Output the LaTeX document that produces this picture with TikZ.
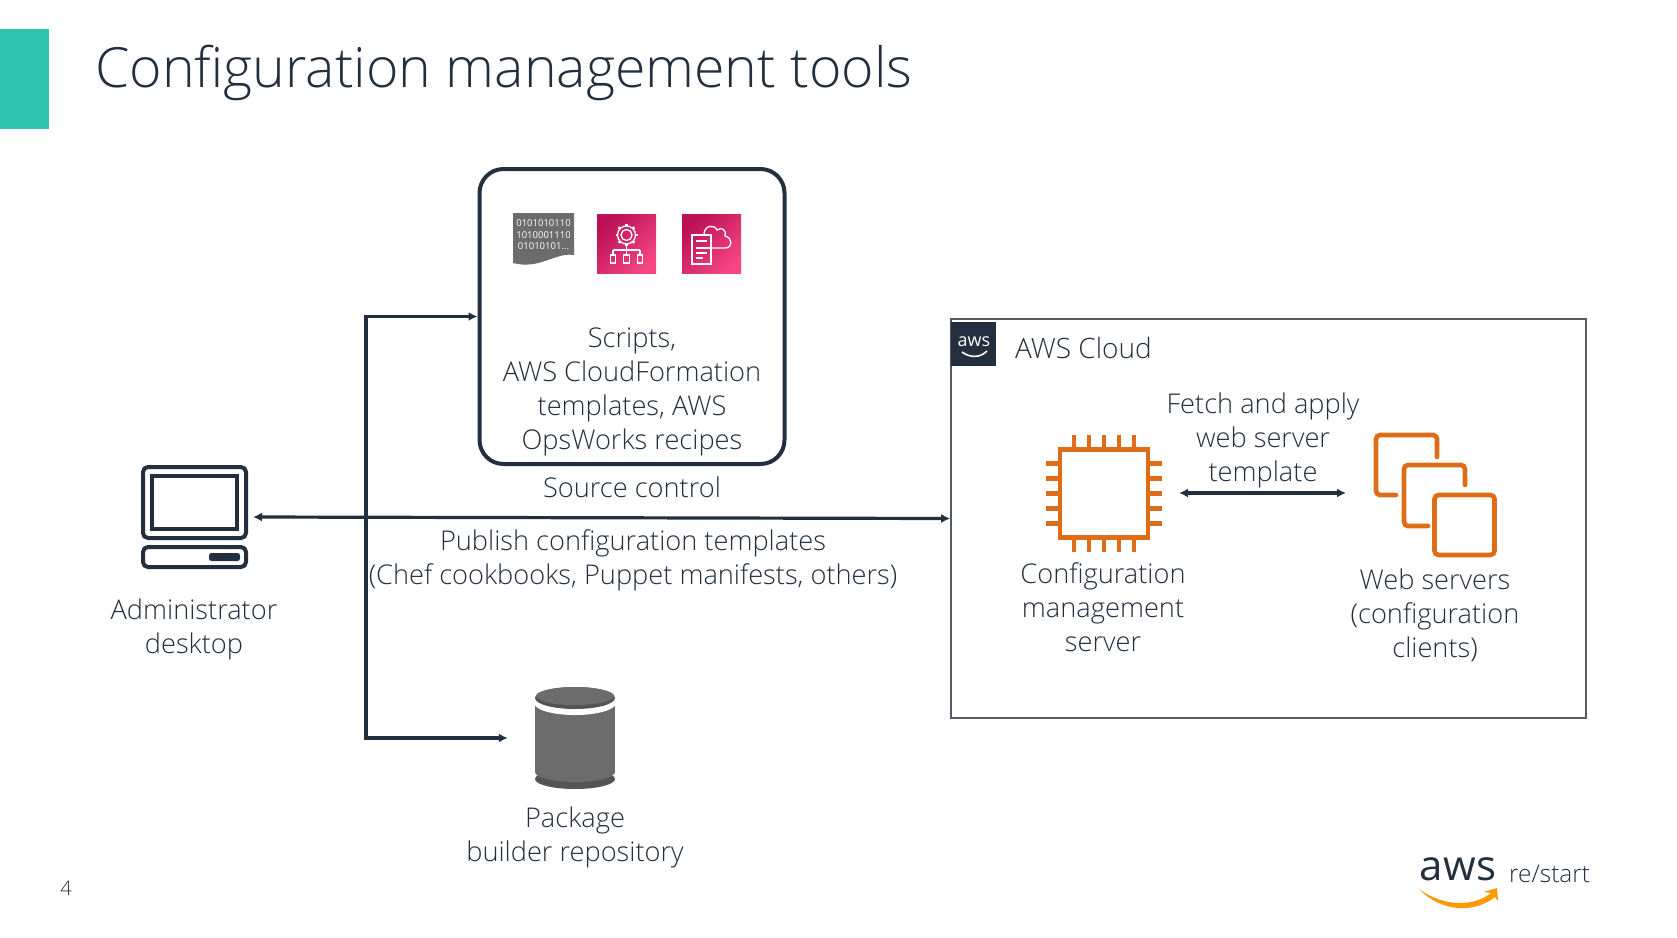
\documentclass[tikz,border=0pt]{standalone}
\usepackage{fontspec}
\setmainfont{Open Sans}[UprightFont=* Light]
\usetikzlibrary{arrows.meta,positioning,calc}
\definecolor{inkdark}{RGB}{35,47,62}
\definecolor{titlegreen}{RGB}{47,196,176}
\definecolor{chiporange}{RGB}{222,109,24}
\definecolor{storegray}{RGB}{108,108,108}
\definecolor{storedark}{RGB}{84,84,84}
\definecolor{pinklow}{RGB}{186,16,86}
\definecolor{pinkhigh}{RGB}{245,70,130}
\definecolor{cloudedge}{RGB}{84,91,100}
\definecolor{smileorange}{RGB}{255,153,0}

\begin{document}
\begin{tikzpicture}[
  x=1pt,y=-1pt,
  font=\fontsize{27.2}{34}\selectfont,
  text=inkdark,
  arrow/.style={-{Latex[length=9pt,width=9pt]},line width=3.2pt,draw=inkdark},
  biarrow/.style={{Latex[length=9pt,width=9pt]}-{Latex[length=9pt,width=9pt]},line width=3.2pt,draw=inkdark},
  label/.style={align=center,inner sep=0pt},
  sourcebox/.style={rounded corners=24pt,draw=inkdark,line width=4pt,fill=white,inner sep=0pt},
  cloudbox/.style={draw=cloudedge,line width=1.6pt,inner sep=0pt},
  pinkicon/.style={shading=axis,left color=pinklow,right color=pinkhigh,shading angle=45,
    minimum size=59pt,inner sep=0pt},
  pinkline/.style={draw=white,line width=1.3pt},
  deskline/.style={draw=inkdark,line width=4pt,rounded corners=5pt},
  chipline/.style={draw=chiporange,line width=4.6pt},
  serverline/.style={draw=chiporange,line width=4.6pt,rounded corners=4pt,line cap=round}
]
\useasboundingbox (0,0) rectangle (1677,937);

% -------------------------------------------------------------------------
% Slide header and footer
% -------------------------------------------------------------------------
\node[fill=titlegreen,minimum width=49pt,minimum height=100pt,inner sep=0pt,anchor=north west] (tab) at (0,29) {};
\node[anchor=base west,inner sep=0pt,font=\fontsize{55.4}{62}\selectfont] (title) at (95,87) {Configuration management tools};
\node[inner sep=0pt,font=\fontsize{20}{24}\selectfont] (pageno) at (66,888) {4};
\node[inner sep=0pt,font=\fontsize{42}{46}\selectfont\fontspec{Open Sans}] (awslogo) at (1458,869) {aws};
\node[inner sep=0pt,anchor=west,font=\fontsize{24.4}{30}\selectfont] (restart) at (1509,874) {re/start};
\fill[smileorange] (1419,889) .. controls (1445,908) and (1475,906) .. (1491,893)
  -- (1484,892) -- (1497,888) -- (1498,901) -- (1495,897)
  .. controls (1475,913) and (1442,913) .. (1419,889) -- cycle;

% -------------------------------------------------------------------------
% Source control
% -------------------------------------------------------------------------
\node[sourcebox,minimum width=305pt,minimum height=295pt] (source) at (632,316.5) {};
\fill[storegray] (513,213) -- (574,213) -- (574,255) .. controls (555,252) and (540,270) .. (513,263) -- cycle;
\node[inner sep=0pt,align=center,text=white,font=\fontsize{9.5}{11.5}\selectfont\fontspec{Open Sans}] (binary) at (543.5,235)
  {0101010110\\1010001110\\01010101...};
\node[pinkicon] (deploy) at (626.5,243.5) {};
\node[pinkicon] (template) at (711.5,243.5) {};
% gear and tree
\draw[pinkline] (deploy.center) ++(0,-8.5) circle (5.5);
\draw[pinkline] (deploy.center) ++(0,-8.5) circle (9);
\foreach \a in {0,45,...,315}
  {\draw[pinkline,line width=2.6pt] ($(deploy.center)+(0,-8.5)+(\a:9)$) -- ($(deploy.center)+(0,-8.5)+(\a:11)$);}
\draw[pinkline] (626.5,246) -- (626.5,250) (613,250) -- (640,250);
\foreach \x in {613,626.5,640}
  {\draw[pinkline] (\x,250) -- (\x,255) (\x-2.8,255) rectangle (\x+2.8,263);}
% document and cloud
\draw[pinkline] (692,235) rectangle (711,264);
\draw[pinkline] (696,241) -- (707,241) (696,248) -- (711,248) (696,253) -- (707,253) (696,258) -- (703,258);
\draw[pinkline] (704,235) .. controls (704,225) and (714,224) .. (717,230)
  .. controls (722,226) and (727,231) .. (725,236)
  .. controls (733,238) and (733,248) .. (725,248) -- (711,248);
\node[label] (sourcetext) at (632,391.5) {Scripts,\\AWS CloudFormation\\templates, AWS\\OpsWorks recipes};
\node[label] (sourcelabel) at (632,487) {Source control};

% -------------------------------------------------------------------------
% Administrator desktop
% -------------------------------------------------------------------------
\draw[deskline] (143,467) rectangle (246,538);
\draw[deskline,rounded corners=0pt,line width=3.6pt] (152,476) rectangle (237,529);
\draw[deskline] (143,547) rectangle (246,567);
\node[fill=inkdark,rounded corners=2.5pt,minimum width=31pt,minimum height=8pt,inner sep=0pt] (slot) at (224.5,557) {};
\node[label] (admin) at (194,629.5) {Administrator\\desktop};

% -------------------------------------------------------------------------
% Package builder repository
% -------------------------------------------------------------------------
\node[minimum width=80pt,minimum height=102pt,inner sep=0pt] (repo) at (575,738) {};
\fill[storedark] (575,779) ellipse (40 and 10);
\fill[storegray] (535,702) rectangle (615,772);
\fill[storegray] (575,772) ellipse (40 and 10);
\fill[white] (575,703) ellipse (41 and 12);
\fill[storedark] (575,698) ellipse (40 and 11);
\fill[storegray] (575,696) ellipse (39 and 9);
\node[label] (repolabel) at (575,837) {Package\\builder repository};

% -------------------------------------------------------------------------
% AWS Cloud
% -------------------------------------------------------------------------
\node[cloudbox,minimum width=635pt,minimum height=399pt] (cloud) at (1268.5,518.5) {};
\node[fill=inkdark,minimum width=45pt,minimum height=44pt,inner sep=0pt,anchor=north west] (badge) at (951,322) {};
\node[inner sep=0pt,text=white,font=\fontsize{18}{20}\selectfont\fontspec{Open Sans}] (badgetext) at (974,342) {aws};
\draw[white,line width=1.6pt] (962,352) .. controls (970,358) and (980,358) .. (987,351);
\node[inner sep=0pt,anchor=west,font=\fontsize{28}{34}\selectfont] (cloudlabel) at (1015,348) {AWS Cloud};
\node[label] (fetch) at (1263,440) {Fetch and apply\\web server\\template};

% chip
\node[chipline,draw,minimum size=88pt,inner sep=0pt] (chip) at (1104,493.5) {};
\foreach \d in {-30,-15,0,15,30}
  {\draw[chipline] ($(chip.north)+(\d,0)$) -- ++(0,-12);
   \draw[chipline] ($(chip.south)+(\d,0)$) -- ++(0,12);
   \draw[chipline] ($(chip.west)+(0,\d)$) -- ++(-12,0);
   \draw[chipline] ($(chip.east)+(0,\d)$) -- ++(12,0);}
\node[label] (chiplabel) at (1103,607) {Configuration\\management\\server};

% web servers
\draw[serverline] (1437,457) -- (1437,435) -- (1376,435) -- (1376,495) -- (1396,495);
\draw[serverline] (1465,485) -- (1465,465) -- (1404,465) -- (1404,526) -- (1428,526);
\node[chipline,draw,rounded corners=4pt,minimum width=60pt,minimum height=60pt,inner sep=0pt] (server) at (1464.5,525) {};
\node[label] (serverlabel) at (1435,615) {Web servers\\(configuration\\clients)};

% -------------------------------------------------------------------------
% Connectors
% -------------------------------------------------------------------------
\coordinate (adminend) at (253,517);
\coordinate (junction) at (366,518);
\coordinate (fetchleft) at (1179,493);
\coordinate (fetchright) at (1346,493);
\draw[biarrow] (adminend) -- (cloud.west);
\draw[arrow] (junction) |- (source.west);
\draw[arrow,shorten >=27pt] (junction) |- (repo.west);
\draw[biarrow] (fetchleft) -- (fetchright);
\node[label] (publish) at (633,560) {Publish configuration templates\\(Chef cookbooks, Puppet manifests, others)};
\end{tikzpicture}
\end{document}
